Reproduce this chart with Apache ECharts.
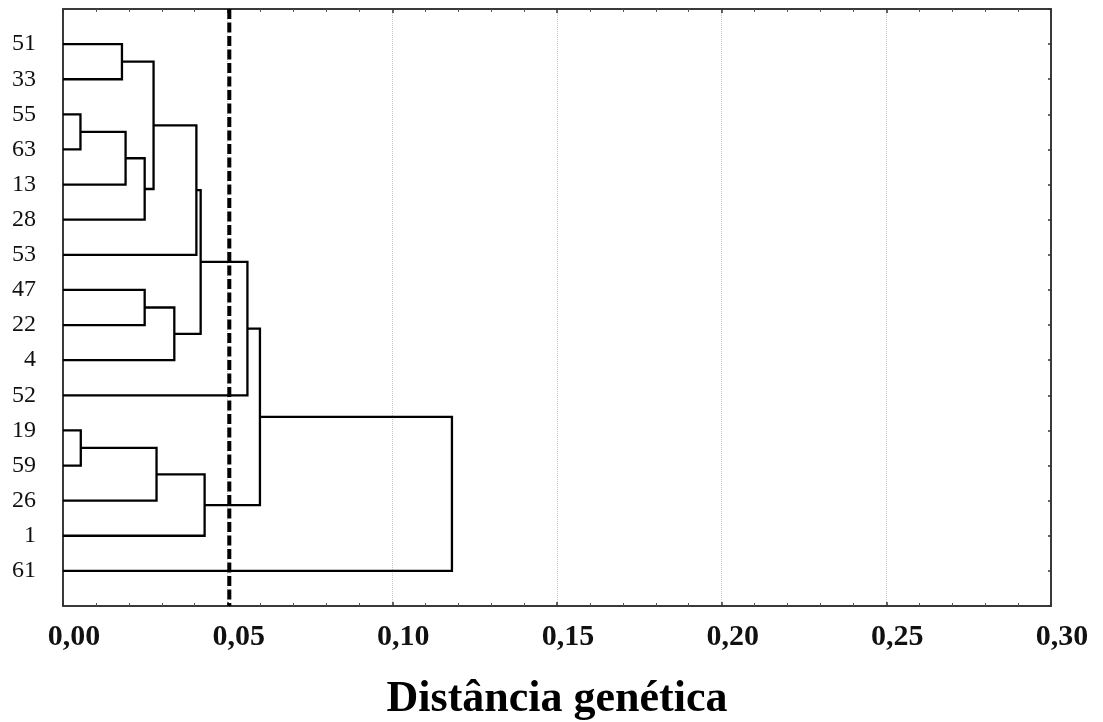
<!DOCTYPE html>
<html>
<head>
<meta charset="utf-8">
<script src="https://cdn.jsdelivr.net/npm/echarts@6/dist/echarts.min.js"></script>
<style>
  html, body { margin: 0; padding: 0; background: #fff; }
  #chart { width: 1103px; height: 722px; }
</style>
</head>
<body>
<div id="chart"></div>
<script>
// leaves in display order (top to bottom)
const leaves = ['51', '33', '55', '63', '13', '28', '53', '47', '22', '4', '52', '19', '59', '26', '1', '61']

// merges: [left, right, distance]; a string is a leaf, a number is an earlier merge
const merges = [
  ['51', '33', 0.0179], // 0
  ['55', '63', 0.0053], // 1
  [1, '13', 0.0190],    // 2
  [2, '28', 0.0248],    // 3
  [0, 3, 0.0275],       // 4
  [4, '53', 0.0405],    // 5
  ['47', '22', 0.0248], // 6
  [6, '4', 0.0338],     // 7
  [5, 7, 0.0418],       // 8
  [8, '52', 0.0560],    // 9
  ['19', '59', 0.0054], // 10
  [10, '26', 0.0284],   // 11
  [11, '1', 0.0430],    // 12
  [9, 12, 0.0598],      // 13
  [13, '61', 0.1181]    // 14
]

const cutoff = 0.0505
const xTicks = [0, 0.05, 0.10, 0.15, 0.20, 0.25, 0.30]

// position of each node: x = distance, y = leaf index (or mean of children)
const nodes = []
function node(ref) {
  if (typeof ref === 'string') return { x: 0, y: leaves.indexOf(ref) }
  return nodes[ref]
}
const links = merges.map(([a, b, h]) => {
  const na = node(a)
  const nb = node(b)
  nodes.push({ x: h, y: (na.y + nb.y) / 2 })
  return [na.x, na.y, h, nb.y, nb.x]
})

const chart = echarts.init(document.getElementById('chart'))
const serif = '"Liberation Serif", "Times New Roman", serif'
const frame = { show: true, onZero: false, lineStyle: { color: '#3a3a3a', width: 2 } }

const option = {
  animation: false,
  grid: { left: 63, right: 52, top: 9, bottom: 116, outerBoundsMode: 'none', containLabel: false },
  xAxis: [{
    type: 'value',
    position: 'bottom',
    min: xTicks[0],
    max: xTicks[xTicks.length - 1],
    interval: 0.05,
    axisLine: frame,
    axisTick: { show: true, inside: true, length: 4, lineStyle: { color: '#333', width: 1.5 } },
    minorTick: { show: true, splitNumber: 5, length: 3, lineStyle: { color: '#555' } },
    axisLabel: {
      margin: 16,
      color: '#111',
      fontFamily: serif,
      fontWeight: 'bold',
      fontSize: 30,
      padding: [0, 0, 0, 22],
      formatter: v => v.toFixed(2).replace('.', ',')
    },
    splitLine: { show: true, lineStyle: { color: '#c8c8c8', type: 'dotted', width: 1 } },
    name: 'Distância genética',
    nameLocation: 'middle',
    nameGap: 72,
    nameTextStyle: { color: '#000', fontFamily: serif, fontWeight: 'bold', fontSize: 44 }
  }, {
    type: 'value',
    position: 'top',
    min: xTicks[0],
    max: xTicks[xTicks.length - 1],
    interval: 0.05,
    axisLine: frame,
    axisTick: { show: true, inside: true, length: 4, lineStyle: { color: '#333', width: 1.5 } },
    minorTick: { show: true, splitNumber: 5, length: 3, lineStyle: { color: '#555' } },
    axisLabel: { show: false },
    splitLine: { show: false }
  }],
  yAxis: [{
    type: 'value',
    position: 'left',
    inverse: true,
    min: -1,
    max: leaves.length,
    interval: 1,
    axisLine: frame,
    axisTick: { show: false },
    axisLabel: {
      margin: 27,
      color: '#111',
      fontFamily: serif,
      fontSize: 24,
      padding: [6, 0, 0, 0],
      formatter: v => leaves[v] || ''
    },
    splitLine: { show: false }
  }, {
    type: 'value',
    position: 'right',
    inverse: true,
    min: -1,
    max: leaves.length,
    interval: 1,
    axisLine: frame,
    axisTick: { show: true, inside: true, length: 3, lineStyle: { color: '#333', width: 1.5 } },
    axisLabel: { show: false },
    splitLine: { show: false }
  }],
  series: [{
    type: 'custom',
    xAxisIndex: 0,
    yAxisIndex: 0,
    data: links,
    encode: { x: [0, 2, 4], y: [1, 3] },
    renderItem: (params, api) => {
      const p1 = api.coord([api.value(0), api.value(1)])
      const p2 = api.coord([api.value(2), api.value(1)])
      const p3 = api.coord([api.value(2), api.value(3)])
      const p4 = api.coord([api.value(4), api.value(3)])
      return {
        type: 'polyline',
        shape: { points: [p1, p2, p3, p4] },
        style: { stroke: '#000', lineWidth: 2.3, fill: null }
      }
    }
  }, {
    // cutoff line
    type: 'line',
    xAxisIndex: 0,
    yAxisIndex: 0,
    data: [[cutoff, -1], [cutoff, leaves.length]],
    showSymbol: false,
    silent: true,
    lineStyle: { color: '#000', width: 4, type: [10, 3.5] },
    z: 5
  }]
}

chart.setOption(option)
</script>
</body>
</html>
